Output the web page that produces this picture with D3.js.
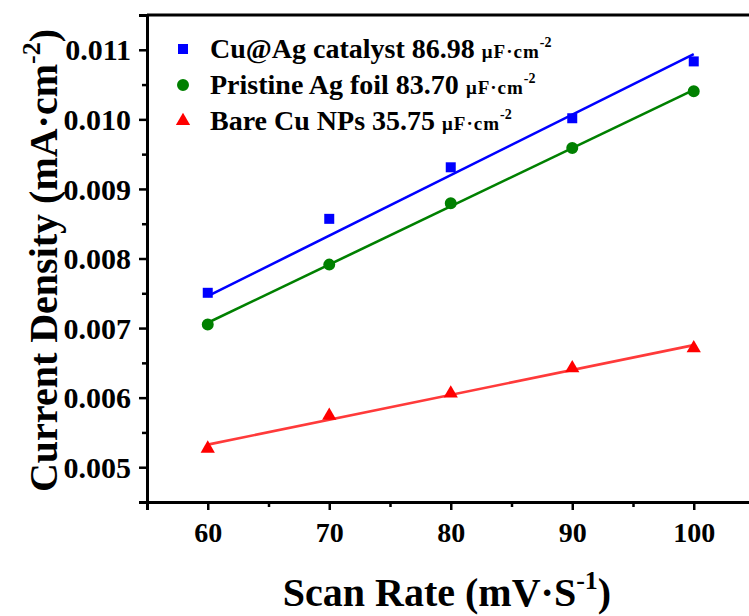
<!DOCTYPE html>
<html>
<head>
<meta charset="utf-8">
<script src="https://cdn.jsdelivr.net/npm/d3@7"></script>
<style>
  body { margin: 0; background: #fff; }
  text { font-family: "Liberation Serif", "Times New Roman", serif; font-weight: bold; fill: #000; }
</style>
</head>
<body>
<svg id="chart" width="749" height="616"></svg>
<script>
// Double-layer capacitance measurements: current density vs. scan rate
const scanRates = [60, 70, 80, 90, 100];
const seriesNames = ["Cu@Ag catalyst", "Pristine Ag foil", "Bare Cu NPs"];
const cuAgValues = [0.007507, 0.00857, 0.009311, 0.010016, 0.010833];
const agFoilValues = [0.007053, 0.007912, 0.008795, 0.009587, 0.010403];
const cuNPsValues = [0.005268, 0.00574, 0.00606, 0.006423, 0.00671];
// linear fits: slope = Cdl (µF·cm-2), intercept in mA·cm-2
const cdlValues = [86.98, 83.70, 35.75];
const fitIntercepts = [0.00224, 0.002054, 0.00318];
const xTicks = [60, 70, 80, 90, 100];
const xMinorTicks = [55, 65, 75, 85, 95, 105];
const yTicks = [0.005, 0.006, 0.007, 0.008, 0.009, 0.010, 0.011];
const yMinorTicks = [0.0045, 0.0055, 0.0065, 0.0075, 0.0085, 0.0095, 0.0105, 0.0115];

const seriesValues = [cuAgValues, agFoilValues, cuNPsValues];
const markerColors = ["#0000ff", "#008000", "#ff0000"];
const lineColors = ["#0000ff", "#008000", "#ff3a3a"];
const symbols = [d3.symbolSquare, d3.symbolCircle, d3.symbolTriangle];
const symbolSizes = [100, 113, 88];

const svg = d3.select("#chart");
const plotLeft = 147, plotTop = 15, plotBottom = 502, plotRight = 754.5;

const x = d3.scaleLinear().domain([55, 105]).range([plotLeft, plotRight]);
const y = d3.scaleLinear().domain([0.0045, 0.0115]).range([plotBottom, plotTop]);

// fit lines
seriesValues.forEach((vals, i) => {
  const slope = cdlValues[i] * 1e-6;
  const fit = d3.extent(scanRates).map(r => [r, slope * r + fitIntercepts[i]]);
  svg.append("path")
    .attr("d", d3.line().x(d => x(d[0])).y(d => y(d[1]))(fit))
    .attr("fill", "none")
    .attr("stroke", lineColors[i])
    .attr("stroke-width", 2.6);
});

// data markers
seriesValues.forEach((vals, i) => {
  svg.append("g").selectAll("path")
    .data(vals)
    .join("path")
    .attr("transform", (d, j) => `translate(${x(scanRates[j])},${y(d)})`)
    .attr("d", d3.symbol(symbols[i], symbolSizes[i]))
    .attr("fill", markerColors[i]);
});

// axes
const xAxis = svg.append("g").attr("transform", `translate(0,${plotBottom})`)
  .call(d3.axisBottom(x).tickValues(xTicks).tickFormat(d3.format("d")).tickSize(8).tickPadding(12));
svg.append("g").attr("transform", `translate(0,${plotBottom})`)
  .call(d3.axisBottom(x).tickValues(xMinorTicks).tickFormat("").tickSize(5))
  .call(g => g.select(".domain").remove());

const yAxis = svg.append("g").attr("transform", `translate(${plotLeft},0)`)
  .call(d3.axisLeft(y).tickValues(yTicks).tickFormat(d3.format(".3f")).tickSize(8).tickPadding(8));
svg.append("g").attr("transform", `translate(${plotLeft},0)`)
  .call(d3.axisLeft(y).tickValues(yMinorTicks).tickFormat("").tickSize(5))
  .call(g => g.select(".domain").remove());

svg.selectAll(".domain").attr("stroke", "#000").attr("stroke-width", 3);
svg.selectAll(".tick line").attr("stroke", "#000").attr("stroke-width", 2.5);
xAxis.selectAll(".tick text").attr("font-size", 28);
yAxis.selectAll(".tick text").attr("font-size", 30).attr("dy", "0.34em");
svg.selectAll(".tick text").style("font-family", "'Liberation Serif', serif").style("font-weight", "bold").attr("fill", "#000");

// top frame line
svg.append("line")
  .attr("x1", plotLeft).attr("x2", plotRight).attr("y1", plotTop).attr("y2", plotTop)
  .attr("stroke", "#000").attr("stroke-width", 3);

// axis titles
const xTitle = svg.append("text")
  .attr("x", (x(55) + 749) / 2 - 1).attr("y", 606)
  .attr("text-anchor", "middle").attr("font-size", 40);
xTitle.append("tspan").text("Scan Rate (mV·S");
xTitle.append("tspan").attr("font-size", 26).attr("dy", -17).text("-1");
xTitle.append("tspan").attr("dy", 17).text(")");

const yTitle = svg.append("text")
  .attr("transform", `translate(57,${(plotTop + plotBottom) / 2 + 2}) rotate(-90)`)
  .attr("text-anchor", "middle").attr("font-size", 40);
yTitle.append("tspan").text("Current Density (mA·cm");
yTitle.append("tspan").attr("font-size", 26).attr("dy", -17).text("-2");
yTitle.append("tspan").attr("dy", 17).text(")");

// legend
const legend = svg.append("g");
seriesNames.forEach((name, i) => {
  const ly = 49 + i * 36;
  legend.append("path")
    .attr("transform", `translate(183,${ly})`)
    .attr("d", d3.symbol(symbols[i], symbolSizes[i]))
    .attr("fill", markerColors[i]);
  const t = legend.append("text").attr("x", 210).attr("y", ly + 9).attr("font-size", 28);
  t.append("tspan").text(`${name} ${cdlValues[i].toFixed(2)} `);
  t.append("tspan").attr("font-size", 19).attr("letter-spacing", 1).text("μF·cm");
  t.append("tspan").attr("font-size", 14).attr("dy", -11).text("-2");
});
</script>
</body>
</html>
